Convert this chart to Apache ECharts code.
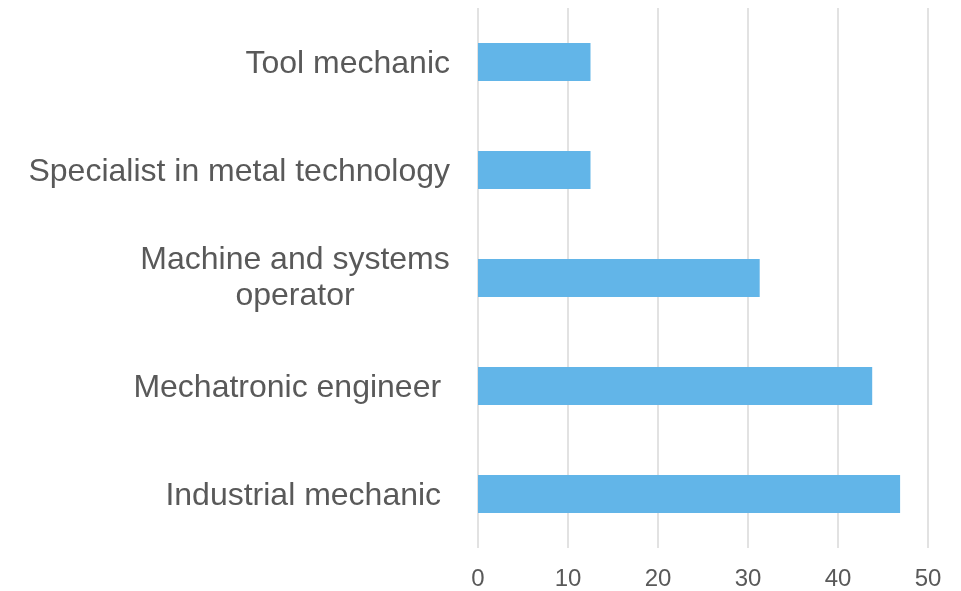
<!DOCTYPE html>
<html>
<head>
<meta charset="utf-8">
<script src="https://cdn.jsdelivr.net/npm/echarts@6/dist/echarts.min.js"></script>
<style>html,body{margin:0;padding:0;background:#fff;}#c{width:961px;height:591px;}</style>
</head>
<body>
<div id="c"></div>
<script>
const categories = ["Tool mechanic", "Specialist in metal technology", "Machine and systems operator", "Mechatronic engineer ", "Industrial mechanic "];
const values = [12.5, 12.5, 31.3, 43.8, 46.9];
const xTicks = [0, 10, 20, 30, 40, 50];

const FONT = 'Liberation Sans, Arial, sans-serif';
const chart = echarts.init(document.getElementById('c'), null, {renderer: 'canvas'});
chart.setOption({
  animation: false,
  backgroundColor: '#ffffff',
  grid: {left: 478, right: 33, top: 8, bottom: 39, containLabel: false},
  xAxis: {
    type: 'value', min: xTicks[0], max: xTicks[xTicks.length - 1], interval: 10,
    axisLine: {show: false}, axisTick: {show: false},
    splitLine: {show: true, lineStyle: {color: '#d9d9d9', width: 1.5}},
    axisLabel: {color: '#595959', fontSize: 24, fontFamily: FONT, margin: 19}
  },
  yAxis: {
    type: 'category', data: categories, inverse: true,
    axisLine: {show: false}, axisTick: {show: false},
    axisLabel: {
      color: '#595959', fontSize: 32, fontFamily: FONT, margin: 28,
      formatter: function (v) {
        if (v === 'Machine and systems operator') return '{c|Machine and systems}\n{c|operator}';
        return '{n|' + v + '}';
      },
      rich: {
        c: {width: 310, align: 'center', fontSize: 32, color: '#595959', lineHeight: 36, fontFamily: FONT},
        n: {fontSize: 32, color: '#595959', fontFamily: FONT, padding: [4, 0, 0, 0]}
      }
    }
  },
  series: [{
    type: 'bar', data: values, barCategoryGap: '65%',
    itemStyle: {color: '#62b5e8'}
  }]
});
</script>
</body>
</html>
